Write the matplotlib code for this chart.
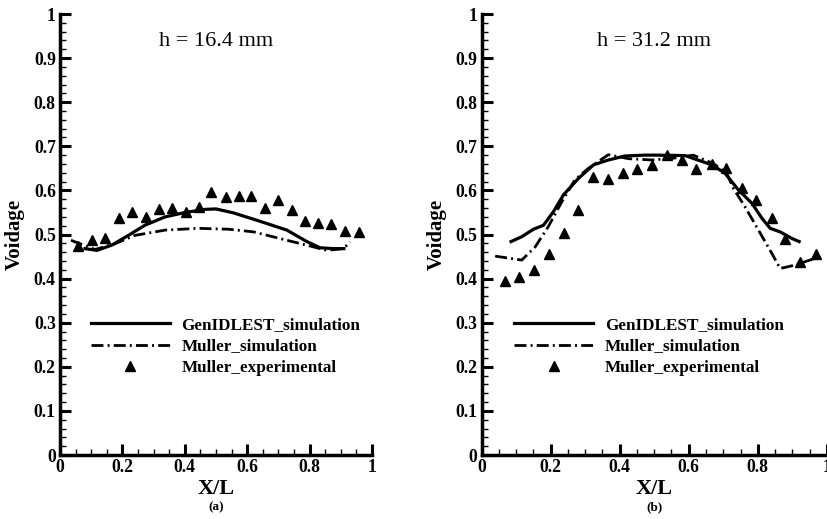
import matplotlib
matplotlib.use("Agg")
import matplotlib.pyplot as plt
from matplotlib.ticker import MultipleLocator

plt.rcParams['font.family'] = ['Liberation Serif', 'DejaVu Serif']

# (a) h = 16.4 mm
a_exp_x = [0.057, 0.101, 0.144, 0.189, 0.230, 0.274, 0.318, 0.359, 0.403, 0.444, 0.485,
           0.533, 0.574, 0.611, 0.656, 0.699, 0.744, 0.786, 0.828, 0.870, 0.914, 0.957]
a_exp_y = [0.473, 0.488, 0.493, 0.538, 0.551, 0.539, 0.558, 0.559, 0.551, 0.562, 0.596,
           0.585, 0.588, 0.588, 0.560, 0.579, 0.555, 0.531, 0.525, 0.524, 0.509, 0.505]
a_gen_x = [0.080, 0.118, 0.166, 0.219, 0.272, 0.337, 0.401, 0.465, 0.500, 0.556, 0.641,
           0.727, 0.791, 0.833, 0.876, 0.910]
a_gen_y = [0.468, 0.464, 0.476, 0.498, 0.521, 0.540, 0.550, 0.557, 0.558, 0.549, 0.530,
           0.510, 0.484, 0.470, 0.468, 0.468]
a_mul_x = [0.035, 0.112, 0.176, 0.240, 0.337, 0.443, 0.540, 0.620, 0.727, 0.812, 0.855,
           0.908, 0.930]
a_mul_y = [0.487, 0.466, 0.479, 0.498, 0.510, 0.514, 0.512, 0.506, 0.487, 0.472, 0.464,
           0.468, 0.483]

# (b) h = 31.2 mm
b_exp_x = [0.066, 0.108, 0.152, 0.194, 0.239, 0.280, 0.323, 0.366, 0.408, 0.449, 0.494,
           0.538, 0.581, 0.622, 0.667, 0.708, 0.753, 0.795, 0.840, 0.880, 0.923, 0.968]
b_exp_y = [0.395, 0.404, 0.420, 0.456, 0.504, 0.555, 0.630, 0.627, 0.640, 0.649, 0.657,
           0.681, 0.670, 0.648, 0.661, 0.650, 0.606, 0.578, 0.538, 0.489, 0.438, 0.455]
b_gen_x = [0.085, 0.116, 0.150, 0.179, 0.208, 0.237, 0.280, 0.324, 0.367, 0.415, 0.473,
           0.502, 0.589, 0.667, 0.705, 0.744, 0.783, 0.812, 0.836, 0.865, 0.899, 0.920]
b_gen_y = [0.484, 0.495, 0.512, 0.521, 0.552, 0.590, 0.627, 0.658, 0.669, 0.678, 0.680,
           0.680, 0.679, 0.658, 0.639, 0.601, 0.571, 0.537, 0.514, 0.506, 0.491, 0.484]
b_mul_x = [0.039, 0.116, 0.155, 0.193, 0.232, 0.270, 0.309, 0.367, 0.425, 0.493, 0.555,
           0.613, 0.671, 0.710, 0.729, 0.763, 0.802, 0.841, 0.865, 0.899, 0.932, 0.966]
b_mul_y = [0.451, 0.442, 0.472, 0.518, 0.574, 0.624, 0.650, 0.681, 0.672, 0.669, 0.673,
           0.680, 0.661, 0.639, 0.605, 0.563, 0.510, 0.457, 0.423, 0.429, 0.437, 0.446]

panels = [
    ("h = 16.4 mm", "(a)", a_gen_x, a_gen_y, a_mul_x, a_mul_y, a_exp_x, a_exp_y),
    ("h = 31.2 mm", "(b)", b_gen_x, b_gen_y, b_mul_x, b_mul_y, b_exp_x, b_exp_y),
]
xticks = [0, 0.2, 0.4, 0.6, 0.8, 1]
xtick_labels = ["0", "0.2", "0.4", "0.6", "0.8", "1"]
yticks = [0, 0.1, 0.2, 0.3, 0.4, 0.5, 0.6, 0.7, 0.8, 0.9, 1]
ytick_labels = ["0", "0.1", "0.2", "0.3", "0.4", "0.5", "0.6", "0.7", "0.8", "0.9", "1"]

W, H = 828, 519
fig = plt.figure(figsize=(W / 100, H / 100), dpi=100)
rects = [[0.0725, 0.1233, 0.3768, 0.8497], [0.5818, 0.1233, 0.4167, 0.8497]]
dashdot = (0, (4.3, 1.5, 0.7, 1.5))

for rect, (title, tag, gx, gy, mx, my, ex, ey) in zip(rects, panels):
    ax = fig.add_axes(rect)
    ax.plot(gx, gy, color='black', lw=2.3, label='GenIDLEST_simulation')
    ax.plot(mx, my, color='black', lw=2.0, linestyle=dashdot, label='Muller_simulation')
    ax.plot(ex, ey, linestyle='none', marker='^', color='black', markersize=6.5,
            label='Muller_experimental')
    ax.set_xlim(0, 1)
    ax.set_ylim(0, 1)
    for s in ['top', 'right']:
        ax.spines[s].set_visible(False)
    for s in ['left', 'bottom']:
        ax.spines[s].set_linewidth(2.5)
    ax.set_xticks(xticks)
    ax.set_xticklabels(xtick_labels)
    ax.set_yticks(yticks)
    ax.set_yticklabels(ytick_labels)
    ax.xaxis.set_minor_locator(MultipleLocator(0.05))
    ax.yaxis.set_minor_locator(MultipleLocator(0.02))
    ax.tick_params(which='major', direction='in', length=8, width=2.2, pad=3, labelsize=12.7)
    ax.tick_params(which='minor', direction='in', length=4, width=1.0)
    for lab in ax.get_xticklabels() + ax.get_yticklabels():
        lab.set_fontweight('bold')
    ax.set_xlabel("X/L", fontsize=16, fontweight='bold', labelpad=2)
    ax.set_ylabel("Voidage", fontsize=15, fontweight='bold')
    ax.yaxis.set_label_coords(-35 / (rect[2] * W), 0.5)
    ax.text(0.5, 0.937, title, fontsize=16, ha='center', va='center', transform=ax.transAxes)
    ax.text(0.5, -0.118, tag, fontsize=9.5, fontweight='bold', ha='center', va='center',
            transform=ax.transAxes)
    ax.legend(loc='upper left', bbox_to_anchor=(0.05, 0.348), frameon=False,
              handlelength=4.6, handletextpad=0.7, labelspacing=0.33,
              prop={'weight': 'bold', 'size': 12.3})
    for line in ax.lines:
        line.set_clip_on(False)

fig.savefig("out.png", dpi=100)
